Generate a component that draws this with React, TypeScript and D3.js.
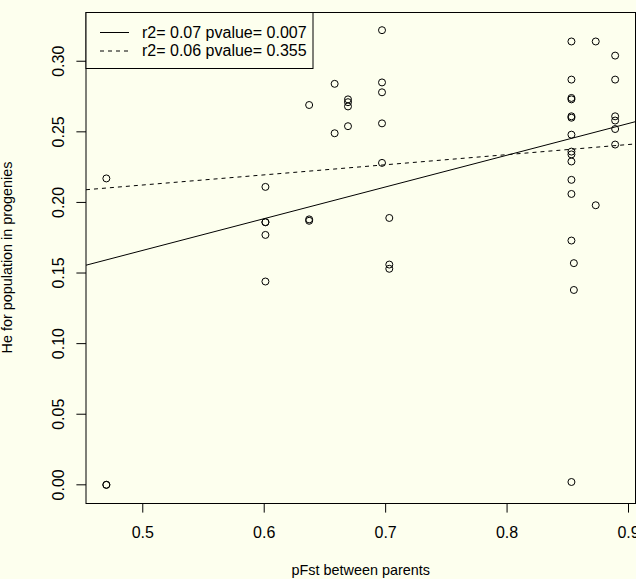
import React from "react";
import * as d3 from "d3";

const W = 636;
const H = 579;

// pFst between parents (x) and He for population in progenies (y)
const pFst = [
  0.47, 0.47, 0.47,
  0.601, 0.601, 0.601, 0.601, 0.601,
  0.637, 0.637, 0.637,
  0.658, 0.658,
  0.669, 0.669, 0.669, 0.669,
  0.697, 0.697, 0.697, 0.697, 0.697,
  0.703, 0.703, 0.703,
  0.853, 0.853, 0.853, 0.853, 0.853, 0.853, 0.853, 0.853, 0.853, 0.853, 0.853, 0.853, 0.853, 0.853,
  0.855, 0.855,
  0.873, 0.873,
  0.889, 0.889, 0.889, 0.889, 0.889, 0.889,
];
const heProg = [
  0.217, 0.0, 0.0,
  0.211, 0.186, 0.186, 0.177, 0.144,
  0.269, 0.188, 0.187,
  0.284, 0.249,
  0.273, 0.271, 0.268, 0.254,
  0.322, 0.285, 0.278, 0.256, 0.228,
  0.189, 0.156, 0.153,
  0.314, 0.287, 0.274, 0.273, 0.261, 0.260, 0.248, 0.236, 0.234, 0.229, 0.216, 0.206, 0.173, 0.002,
  0.157, 0.138,
  0.314, 0.198,
  0.304, 0.287, 0.261, 0.258, 0.252, 0.241,
];

// regression lines: intercept, slope, dash
const fitIntercepts = [0.0537, 0.1765];
const fitSlopes = [0.2247, 0.0717];
const fitLabels = ["r2= 0.07 pvalue= 0.007", "r2= 0.06 pvalue= 0.355"];
const fitDashes = ["none", "4,4"];

const xTicks = [0.5, 0.6, 0.7, 0.8, 0.9];
const yTicks = [0.0, 0.05, 0.1, 0.15, 0.2, 0.25, 0.3];

const BG = "#FDFFEE";
const FONT = "'Liberation Sans', Arial, Helvetica, sans-serif";

export default function App() {
  const left = 86;
  const right = 635.5;
  const top = 12;
  const bottom = 503;

  const xMin = d3.min(pFst)!;
  const xMax = d3.max(pFst)!;
  const yMin = d3.min(heProg)!;
  const yMax = d3.max(heProg)!;
  const xPad = (xMax - xMin) * 0.04;
  const yPad = (yMax - yMin) * 0.04;

  const x = d3.scaleLinear().domain([xMin - xPad, xMax + xPad]).range([left, right]);
  const y = d3.scaleLinear().domain([yMin - yPad, yMax + yPad]).range([bottom, top]);

  const [dx0, dx1] = x.domain();
  const line = d3
    .line<[number, number]>()
    .x((d) => x(d[0]))
    .y((d) => y(d[1]));

  return (
    <div style={{ position: "fixed", left: 0, top: 0, width: W, height: H }}>
      <svg width={W} height={H} style={{ display: "block", fontFamily: FONT }}>
        <defs>
          <clipPath id="plotclip">
            <rect x={left} y={top} width={right - left} height={bottom - top} />
          </clipPath>
        </defs>
        <rect x={0} y={0} width={W} height={H} fill={BG} />

        {/* points */}
        <g>
          {pFst.map((px, i) => (
            <circle
              key={i}
              cx={x(px)}
              cy={y(heProg[i])}
              r={3.5}
              fill="none"
              stroke="#000"
              strokeWidth={1}
            />
          ))}
        </g>

        {/* regression lines */}
        <g clipPath="url(#plotclip)">
          {fitIntercepts.map((a, i) => (
            <path
              key={i}
              d={
                line([
                  [dx0, a + fitSlopes[i] * dx0],
                  [dx1, a + fitSlopes[i] * dx1],
                ]) || ""
              }
              fill="none"
              stroke="#000"
              strokeWidth={1}
              strokeDasharray={fitDashes[i]}
            />
          ))}
        </g>

        {/* box */}
        <rect
          x={left}
          y={top + 0.5}
          width={right - left}
          height={bottom - top}
          fill="none"
          stroke="#000"
          strokeWidth={1}
        />

        {/* x axis */}
        <g>
          {xTicks.map((t) => (
            <g key={t}>
              <line x1={x(t)} x2={x(t)} y1={bottom} y2={bottom + 9.6} stroke="#000" />
              <text x={x(t)} y={538} textAnchor="middle" fontSize={16} fill="#000">
                {d3.format(".1f")(t)}
              </text>
            </g>
          ))}
          <text x={(left + right) / 2} y={575} textAnchor="middle" fontSize={14.4} fill="#000">
            pFst between parents
          </text>
        </g>

        {/* y axis */}
        <g>
          {yTicks.map((t) => (
            <g key={t}>
              <line x1={left - 9.6} x2={left} y1={y(t)} y2={y(t)} stroke="#000" />
              <text
                transform={`translate(64,${y(t)}) rotate(-90)`}
                textAnchor="middle"
                fontSize={16}
                fill="#000"
              >
                {d3.format(".2f")(t)}
              </text>
            </g>
          ))}
          <text
            transform={`translate(12,${(top + bottom) / 2}) rotate(-90)`}
            textAnchor="middle"
            fontSize={14.4}
            fill="#000"
          >
            He for population in progenies
          </text>
        </g>

        {/* legend */}
        <g>
          <rect x={left} y={top + 0.5} width={227} height={56} fill={BG} stroke="#000" strokeWidth={1} />
          {fitLabels.map((lab, i) => (
            <g key={i}>
              <line
                x1={100}
                x2={129}
                y1={32.5 + i * 18.5}
                y2={32.5 + i * 18.5}
                stroke="#000"
                strokeWidth={1}
                strokeDasharray={fitDashes[i]}
              />
              <text x={142} y={37.8 + i * 18.5} fontSize={16} fill="#000">
                {lab}
              </text>
            </g>
          ))}
        </g>
      </svg>
    </div>
  );
}
